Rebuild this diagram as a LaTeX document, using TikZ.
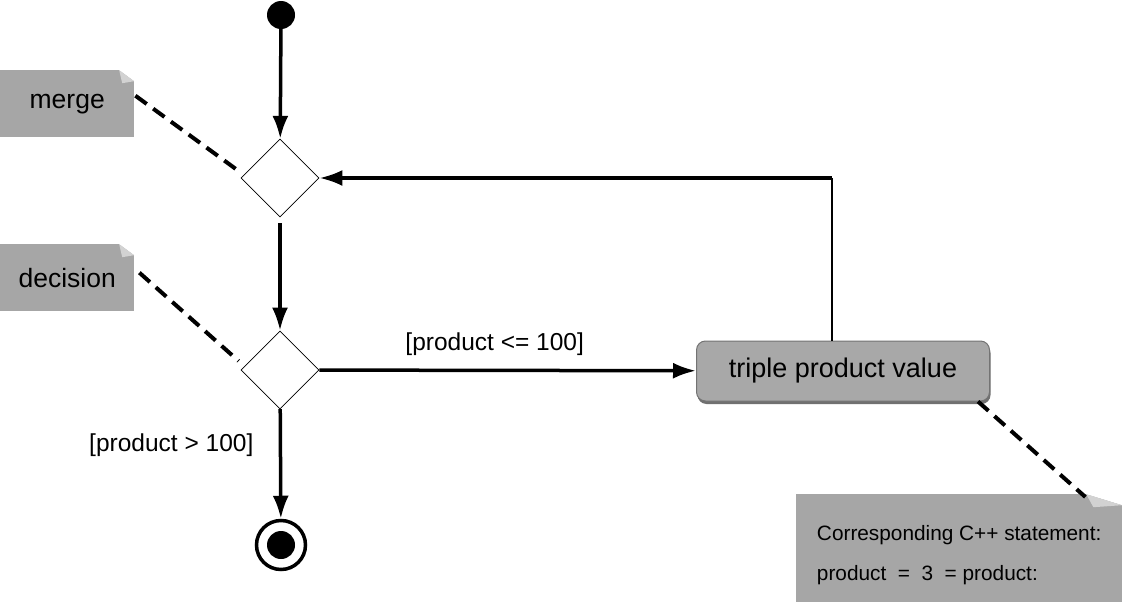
\documentclass[tikz,border=0pt]{standalone}
\usepackage{fontspec}
\setmainfont{Liberation Sans}
\usepackage{tikz}
\usetikzlibrary{positioning, calc, arrows.meta, shapes.geometric, shadows}
\usepackage{xcolor}
\definecolor{notegray}{RGB}{166,166,166}
\definecolor{foldgray}{RGB}{210,210,210}
\definecolor{actgray}{RGB}{168,168,168}
\tikzset{flow/.style={line width=3.5pt, -{Latex[length=23pt, width=16pt]}}}
\tikzset{anchorline/.style={line width=4pt, dash pattern=on 14pt off 8pt}}
\tikzset{branch/.style={diamond, draw, line width=0.8pt, fill=white, minimum width=78pt, minimum height=78pt, inner sep=0pt}}
\tikzset{startdot/.style={circle, fill=black, minimum size=28pt, inner sep=0pt}}
\tikzset{enddot/.style={circle, draw, line width=3.5pt, minimum size=49pt, inner sep=0pt}}
\tikzset{guard/.style={font=\fontsize{24.5}{28}\selectfont}}
\tikzset{action/.style={rectangle, rounded corners=9pt, fill=actgray, draw=black!55, line width=1pt,
    drop shadow={shadow xshift=1pt, shadow yshift=-3pt, fill=black!70, opacity=0.8},
    minimum width=293pt, minimum height=60pt, font=\fontsize{27}{30}\selectfont}}
\tikzset{note/.style={fill=notegray, inner sep=0pt, anchor=north west, font=\fontsize{26.5}{30}\selectfont,
    path picture={
      \fill[white] ([xshift=-#1]path picture bounding box.north east) -- (path picture bounding box.north east)
        -- ([yshift=-11pt]path picture bounding box.north east) -- cycle;
      \fill[foldgray] ([xshift=-#1]path picture bounding box.north east) -- ([yshift=-11pt]path picture bounding box.north east)
        -- ([xshift=-0.8*#1, yshift=-13pt]path picture bounding box.north east) -- cycle;}},
  note/.default=15pt}

\begin{document}
\begin{tikzpicture}[x=1pt, y=-1pt]
  \useasboundingbox (0,0) rectangle (1122,602);

  \node[startdot] (start) at (281,15) {};
  \node[branch] (merge) at (280,178) {};
  \node[branch] (decide) at (280,370) {};
  \node[action] (triple) at (843,371) {triple product value};
  \node[enddot] (stop) at (281,545) {};
  \fill (stop) circle (14pt);

  \node[note, minimum width=134pt, minimum height=67pt] (mergenote) at (0,70) {merge};
  \node[note, minimum width=134pt, minimum height=67pt] (decnote) at (0,244) {decision};
  \node[note=36pt, minimum width=326pt, minimum height=108pt, align=left,
    font=\fontsize{20.8}{40}\selectfont] (stmtnote) at (796,494)
    {\rule{0pt}{28pt}Corresponding C++ statement:\\ product\ \ =\ \ 3\ \ = product:};
  \coordinate (turn) at (832,178);

  \draw[flow] (start) -- (merge);
  \draw[flow, shorten <=6pt] (merge) -- (decide);
  \draw[flow] (decide) -- node[guard, above=10pt, xshift=-13pt] {[product <= 100]} (triple);
  \draw[flow] (decide) -- node[guard, pos=0.33, left=22pt] {[product > 100]} (stop);
  \draw[line width=2pt] (triple.north -| turn) -- (turn);
  \draw[flow] (turn) -- (merge);

  \draw[anchorline] ([xshift=1pt, yshift=8pt]mergenote.east) -- ([xshift=-2pt, yshift=7pt]merge.west);
  \draw[anchorline] ([xshift=5pt, yshift=5pt]decnote.east) -- ([xshift=-2pt, yshift=9pt]decide.west);
  \draw[anchorline] ([xshift=-12pt]triple.south east) -- ([xshift=-37pt, yshift=-3pt]stmtnote.north east);
\end{tikzpicture}
\end{document}
